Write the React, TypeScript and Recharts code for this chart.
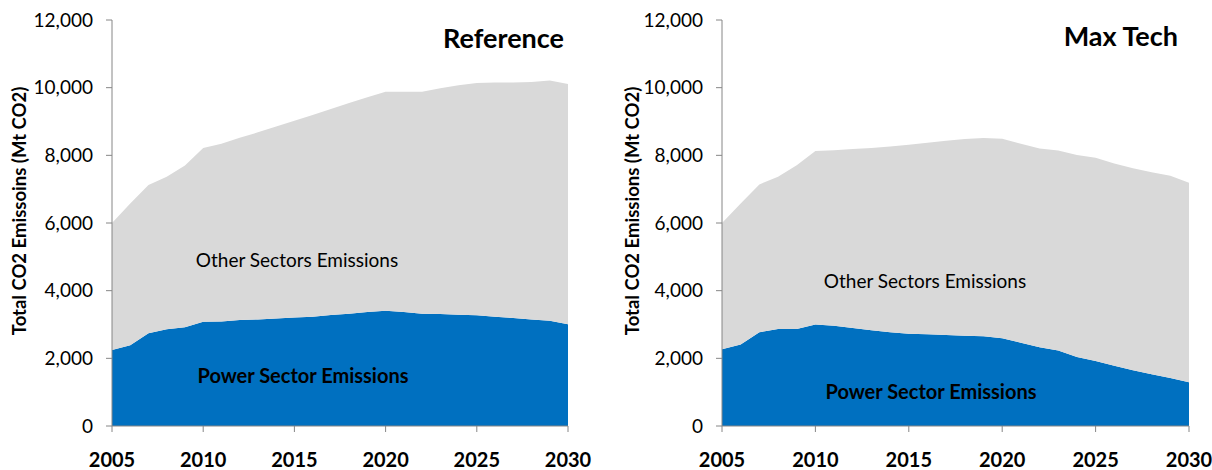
import React from 'react';
import { AreaChart, Area, XAxis, YAxis } from 'recharts';

const years = [
  2005, 2006, 2007, 2008, 2009, 2010, 2011, 2012, 2013, 2014, 2015, 2016, 2017,
  2018, 2019, 2020, 2021, 2022, 2023, 2024, 2025, 2026, 2027, 2028, 2029, 2030,
];

// Reference scenario (Mt CO2)
const refTotal = [
  6000, 6580, 7120, 7370, 7700, 8220, 8340, 8520, 8680, 8850, 9020, 9190, 9370,
  9550, 9720, 9880, 9880, 9880, 9980, 10070, 10140, 10150, 10150, 10170, 10210, 10110,
];
const refPower = [
  2250, 2390, 2740, 2860, 2920, 3080, 3090, 3130, 3150, 3180, 3210, 3230, 3280,
  3320, 3370, 3410, 3370, 3320, 3310, 3290, 3270, 3230, 3190, 3150, 3110, 3010,
];

// Max Tech scenario (Mt CO2)
const maxTotal = [
  6000, 6580, 7140, 7370, 7710, 8130, 8150, 8190, 8220, 8260, 8310, 8370, 8430,
  8480, 8510, 8490, 8340, 8200, 8140, 8010, 7930, 7760, 7620, 7500, 7400, 7190,
];
const maxPower = [
  2270, 2410, 2770, 2870, 2870, 3000, 2960, 2900, 2830, 2770, 2730, 2710, 2690,
  2670, 2650, 2590, 2460, 2330, 2230, 2040, 1920, 1780, 1650, 1530, 1420, 1290,
];

const xTicks = [2005, 2010, 2015, 2020, 2025, 2030];
const yTicks = [0, 2000, 4000, 6000, 8000, 10000, 12000];

const FONT = 'Lato, "Open Sans", sans-serif';
const AXIS = '#868686';

function buildRows(total: number[], power: number[]) {
  return years.map((year, i) => ({
    year,
    power: power[i],
    other: total[i] - power[i],
  }));
}

interface PanelProps {
  title: string;
  yTitle: string;
  total: number[];
  power: number[];
  left: number;
  width: number;
  rightMargin: number;
  titleX: number;
  titleY: number;
  yTitleX: number;
  otherPos: [number, number];
  powerPos: [number, number];
}

const overlay: React.CSSProperties = {
  position: 'absolute',
  transform: 'translate(-50%, -50%)',
  whiteSpace: 'nowrap',
  fontFamily: FONT,
  color: '#000',
  lineHeight: 1,
};

function Panel(p: PanelProps) {
  const rows = buildRows(p.total, p.power);
  return (
    <div style={{ position: 'absolute', left: p.left, top: 0, width: p.width, height: 470 }}>
      <AreaChart
        width={p.width}
        height={470}
        data={rows}
        margin={{ top: 20, right: p.rightMargin, left: 0, bottom: 0 }}
      >
        <XAxis
          dataKey="year"
          type="number"
          domain={[2005, 2030]}
          ticks={xTicks}
          height={44}
          stroke={AXIS}
          tickSize={6}
          tickMargin={21}
          tick={{ fill: '#000', fontSize: 20, fontWeight: 700, fontFamily: FONT }}
        />
        <YAxis
          type="number"
          domain={[0, 12000]}
          ticks={yTicks}
          width={112}
          stroke={AXIS}
          tickSize={6}
          tickMargin={13}
          tickFormatter={(v: number) => v.toLocaleString('en-US')}
          tick={{ fill: '#000', fontSize: 19, fontFamily: FONT }}
        />
        <Area
          type="linear"
          dataKey="power"
          stackId="a"
          fill="#0070C0"
          fillOpacity={1}
          stroke="none"
          isAnimationActive={false}
        />
        <Area
          type="linear"
          dataKey="other"
          stackId="a"
          fill="#D9D9D9"
          fillOpacity={1}
          stroke="none"
          isAnimationActive={false}
        />
        <text
          x={p.yTitleX}
          y={211}
          transform={`rotate(-90 ${p.yTitleX} 211)`}
          textAnchor="middle"
          dominantBaseline="central"
          fontFamily={FONT}
          fontWeight={700}
          fontSize={18.5}
        >
          {p.yTitle}
        </text>
        <text
          x={p.titleX}
          y={p.titleY}
          textAnchor="end"
          fontFamily={FONT}
          fontWeight={700}
          fontSize={27}
        >
          {p.title}
        </text>
      </AreaChart>
      <div style={{ ...overlay, left: p.otherPos[0], top: p.otherPos[1], fontSize: 19 }}>
        Other Sectors Emissions
      </div>
      <div
        style={{ ...overlay, left: p.powerPos[0], top: p.powerPos[1], fontSize: 20, fontWeight: 700 }}
      >
        Power Sector Emissions
      </div>
    </div>
  );
}

export default function App() {
  return (
    <div style={{ position: 'absolute', left: 0, top: 0, width: 1212, height: 470, background: '#fff' }}>
      <Panel
        title="Reference"
        yTitle="Total CO2 Emissoins (Mt CO2)"
        total={refTotal}
        power={refPower}
        left={0}
        width={600}
        rightMargin={32}
        titleX={564}
        titleY={48}
        yTitleX={19}
        otherPos={[297, 259]}
        powerPos={[303, 375]}
      />
      <Panel
        title="Max Tech"
        yTitle="Total CO2 Emissions (Mt CO2)"
        total={maxTotal}
        power={maxPower}
        left={610}
        width={602}
        rightMargin={23}
        titleX={568}
        titleY={46}
        yTitleX={22}
        otherPos={[315, 280]}
        powerPos={[321, 391]}
      />
    </div>
  );
}
